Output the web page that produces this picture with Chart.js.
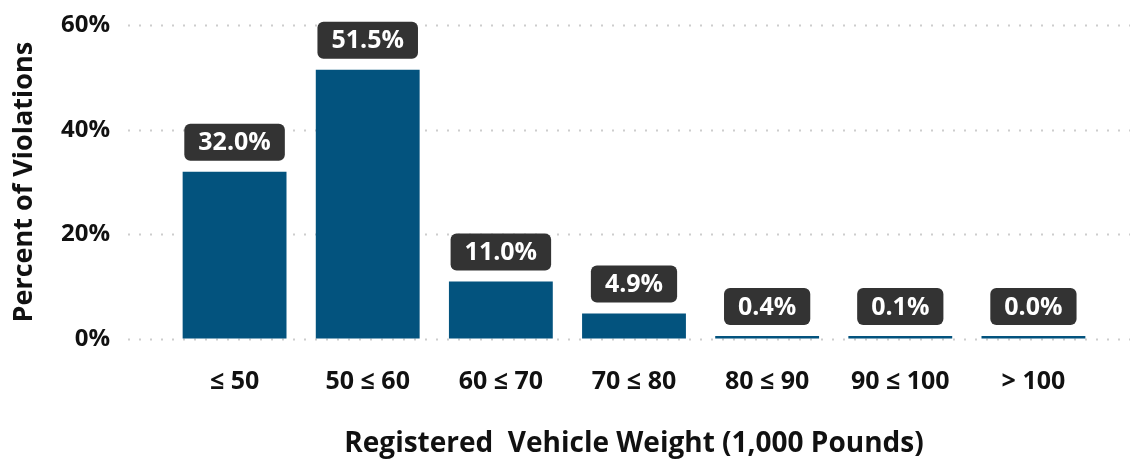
<!DOCTYPE html>
<html>
<head>
<meta charset="utf-8">
<script src="https://cdn.jsdelivr.net/npm/chart.js@4"></script>
<style>
  html, body { margin: 0; padding: 0; background: #fff; }
  #wrap { width: 1138px; height: 467px; }
</style>
</head>
<body>
<div id="wrap"><canvas id="grafico" width="1138" height="467"></canvas></div>
<script>
const categorias = ['≤ 50', '50 ≤ 60', '60 ≤ 70', '70 ≤ 80', '80 ≤ 90', '90 ≤ 100', '> 100'];
const percentuais = [32.0, 51.5, 11.0, 4.9, 0.4, 0.1, 0.0];
const ticksY = [0, 20, 40, 60];

const fonte = '"Open Sans", "DejaVu Sans", sans-serif';
const corBarra = '#03537e';

// linhas pontilhadas da grade, um pouco mais largas que a area das barras
const gradePontilhada = {
  id: 'gradePontilhada',
  beforeDatasetsDraw(chart) {
    const { ctx, chartArea, scales } = chart;
    ctx.save();
    ctx.strokeStyle = '#cdcdcd';
    ctx.lineWidth = 2;
    ctx.setLineDash([2, 9]);
    ticksY.forEach(v => {
      const y = Math.round(scales.y.getPixelForValue(v)) + 0.5;
      ctx.beginPath();
      ctx.moveTo(chartArea.left - 40, y);
      ctx.lineTo(chartArea.right + 30, y);
      ctx.stroke();
    });
    ctx.restore();
  }
};

// rotulos escuros acima das barras
const rotulos = {
  id: 'rotulos',
  afterDatasetsDraw(chart) {
    const { ctx } = chart;
    const meta = chart.getDatasetMeta(0);
    ctx.save();
    ctx.font = 'bold 25px ' + fonte;
    ctx.textAlign = 'center';
    ctx.textBaseline = 'middle';
    meta.data.forEach((bar, i) => {
      const texto = percentuais[i].toFixed(1) + '%';
      const w = ctx.measureText(texto).width + 28;
      const h = 37;
      const x = bar.x - w / 2;
      const y = bar.y - 11 - h;
      ctx.fillStyle = '#333333';
      ctx.beginPath();
      ctx.roundRect(x, y, w, h, 6);
      ctx.fill();
      ctx.fillStyle = '#ffffff';
      ctx.fillText(texto, bar.x, y + h / 2 + 1);
    });
    ctx.restore();
  }
};

const ctx = document.getElementById('grafico').getContext('2d');
new Chart(ctx, {
  type: 'bar',
  data: {
    labels: categorias,
    datasets: [{
      data: percentuais,
      backgroundColor: corBarra,
      borderWidth: 0,
      barPercentage: 0.78,
      categoryPercentage: 1,
      minBarLength: 3
    }]
  },
  options: {
    responsive: false,
    animation: false,
    layout: { padding: { top: 0, right: 38, bottom: 6, left: 0 } },
    plugins: {
      legend: { display: false },
      tooltip: { enabled: false }
    },
    scales: {
      x: {
        grid: { display: false },
        border: { display: false },
        ticks: {
          color: '#111',
          font: { family: fonte, size: 25, weight: 'bold' },
          padding: 20
        },
        title: {
          display: true,
          text: 'Registered  Vehicle Weight (1,000 Pounds)',
          color: '#111',
          font: { family: fonte, size: 28, weight: 'bold' },
          padding: { top: 22, bottom: 0 }
        },
        afterFit(scale) { scale.height = 122; }
      },
      y: {
        min: 0,
        max: 60,
        grid: {
          display: true,
          drawOnChartArea: false,
          drawTicks: true,
          tickLength: 47,
          tickColor: 'rgba(0,0,0,0)',
          color: 'rgba(0,0,0,0)'
        },
        border: { display: false },
        afterBuildTicks(scale) { scale.ticks = ticksY.map(v => ({ value: v })); },
        ticks: {
          color: '#111',
          font: { family: fonte, size: 24, weight: 'bold' },
          padding: 11,
          callback: v => v + '%'
        },
        title: {
          display: true,
          text: 'Percent of Violations',
          color: '#111',
          font: { family: fonte, size: 27, weight: 'bold' },
          padding: { top: 8, bottom: 0 }
        },
        afterFit(scale) { scale.width = 168; }
      }
    }
  },
  plugins: [gradePontilhada, rotulos]
});
</script>
</body>
</html>
